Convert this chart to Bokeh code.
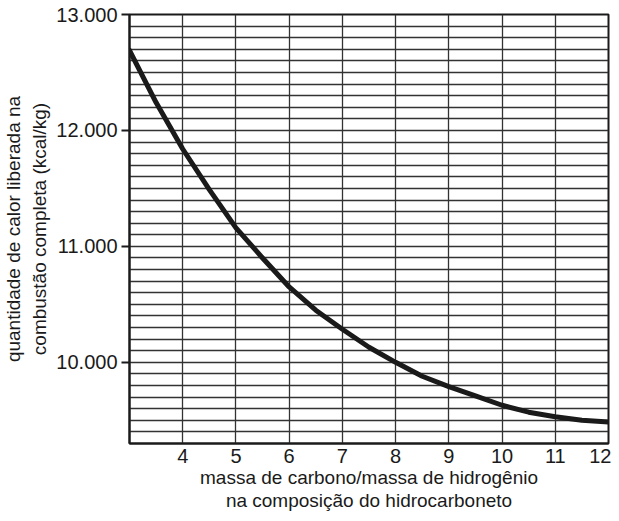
from bokeh.plotting import figure
from bokeh.models import FixedTicker, Range1d
from bokeh.embed import file_html
from bokeh.resources import INLINE

# data
ratio = [3, 3.5, 4, 4.5, 5, 5.5, 6, 6.5, 7, 7.5, 8, 8.5, 9, 9.5, 10, 10.5, 11, 11.5, 12]
heat = [12690, 12240, 11840, 11490, 11160, 10900, 10650, 10450, 10285, 10130,
        10000, 9880, 9790, 9710, 9630, 9570, 9530, 9500, 9485]

x_ticks = [4, 5, 6, 7, 8, 9, 10, 11, 12]
y_ticks = [10000, 11000, 12000, 13000]
y_tick_labels = ["10.000", "11.000", "12.000", "13.000"]
y_grid_values = list(range(9300, 13001, 100))
x_grid_values = [3, 4, 5, 6, 7, 8, 9, 10, 11, 12]

x_title = "massa de carbono/massa de hidrogênio\nna composição do hidrocarboneto"
y_title = "quantidade de calor liberada na\ncombustão completa (kcal/kg)"

FONT = "Liberation Sans"

p = figure(width=611, height=513, output_backend="svg", toolbar_location=None,
           x_range=Range1d(3, 12), y_range=Range1d(9300, 13000),
           min_border_left=127, min_border_right=3, min_border_top=14, min_border_bottom=60)
p.background_fill_color = "white"
p.border_fill_color = "white"
p.outline_line_color = "#1a1a1a"
p.outline_line_width = 2

# axes
p.xaxis.ticker = FixedTicker(ticks=x_ticks)
p.yaxis.ticker = FixedTicker(ticks=y_ticks)
p.yaxis.major_label_overrides = {t: l for t, l in zip(y_ticks, y_tick_labels)}
for ax in (p.xaxis[0], p.yaxis[0]):
    ax.major_label_text_font = FONT
    ax.major_label_text_font_size = "20px"
    ax.major_label_text_color = "#1a1a1a"
    ax.axis_label_text_font = FONT
    ax.axis_label_text_font_size = "19px"
    ax.axis_label_text_font_style = "normal"
    ax.axis_label_text_color = "#1a1a1a"
    ax.minor_tick_line_color = None
    ax.axis_line_color = "#1a1a1a"
    ax.axis_line_width = 2

p.xaxis.major_tick_line_color = None
p.xaxis.major_tick_out = 0
p.xaxis.major_tick_in = 0
p.xaxis.major_label_standoff = 5
p.xaxis.axis_label = x_title
p.xaxis.axis_label_standoff = 1
p.xaxis.axis_label_text_line_height = 1.1

p.yaxis.major_tick_in = 0
p.yaxis.major_tick_out = 8
p.yaxis.major_tick_line_width = 2
p.yaxis.major_tick_line_color = "#1a1a1a"
p.yaxis.major_label_standoff = 4
p.yaxis.axis_label = y_title
p.yaxis.axis_label_standoff = 3
p.yaxis.axis_label_text_line_height = 1.25

# grid
p.xgrid.ticker = FixedTicker(ticks=x_grid_values)
p.ygrid.ticker = FixedTicker(ticks=y_grid_values)
for g in (p.xgrid[0], p.ygrid[0]):
    g.grid_line_color = "#333333"
    g.grid_line_width = 1.3
    g.grid_line_alpha = 1

# curve
p.line(ratio, heat, line_color="#1a1a1a", line_width=5, line_join="round", line_cap="round")

open("out.html", "w").write(file_html(p, INLINE))
